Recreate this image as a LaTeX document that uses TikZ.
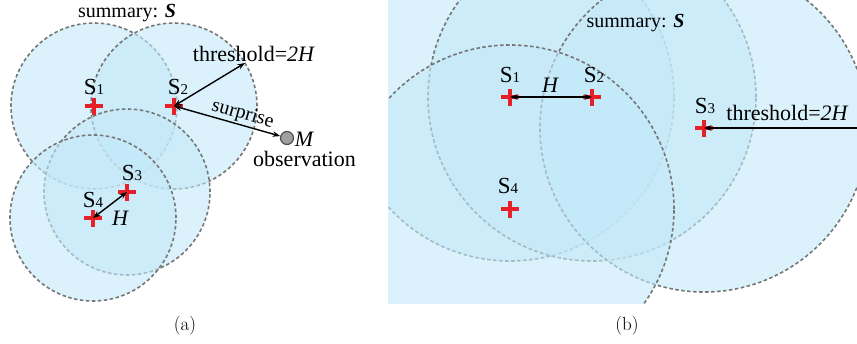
\documentclass[tikz,border=0pt]{standalone}
\usepackage{fontspec}
\newfontfamily\tms{Liberation Serif}
\usetikzlibrary{arrows.meta}
\definecolor{cfill}{RGB}{195,232,248}
\definecolor{cedge}{RGB}{118,118,118}
\definecolor{cred}{RGB}{230,32,38}
\definecolor{mfill}{RGB}{160,160,160}
\definecolor{medge}{RGB}{80,80,80}
\newcommand\snum[1]{\raisebox{-0.5pt}{\fontsize{15}{15}\selectfont #1}}
\tikzset{
  zone/.style={fill=cfill, fill opacity=0.6},
  zoneedge/.style={draw=cedge, dash pattern=on 3.5pt off 2.5pt, line width=1.6pt},
  plus/.pic={\draw[cred, line width=3.4pt] (-9pt,0)--(9pt,0) (0,-8.5pt)--(0,8.5pt);},
  arr/.style={draw=black, line width=1.4pt},
  slab/.style={font=\tms\fontsize{23}{23}\selectfont, inner sep=0pt, anchor=base},
  tlab/.style={font=\tms\fontsize{22}{22}\selectfont, inner sep=0pt, anchor=base},
  smlab/.style={font=\tms\fontsize{20}{20}\selectfont, inner sep=0pt, anchor=base},
  caplab/.style={font=\fontsize{19}{19}\selectfont, inner sep=0pt, anchor=base}
}
\begin{document}
\begin{tikzpicture}[x=1pt,y=-1pt,>={Stealth[length=7.5pt,width=5.5pt]}]
\useasboundingbox (0,0) rectangle (857,343);
% ---------- panel (a) ----------
\coordinate (a1) at (94,106);
\coordinate (a2) at (174,106);
\coordinate (a3) at (127,192);
\coordinate (a4) at (93,218);
\foreach \c in {a1,a2,a3,a4}{
  \fill[zone] (\c) circle[radius=83pt];
  \draw[zoneedge] (\c) circle[radius=83pt];
}
\foreach \c in {a1,a2,a3,a4}{ \pic at (\c) {plus}; }
\node[circle, fill=mfill, draw=medge, line width=1.2pt, minimum size=13pt, inner sep=0pt] (M) at (287,138) {};
\coordinate (ta) at (245,63);
\draw[arr,<->] (a2) -- (ta);
\draw[arr,<->] (a2) -- node[pos=0.62, above=1pt, sloped, font=\tms\fontsize{20}{20}\selectfont, inner sep=0pt] (sur) {surprise} (M);
\draw[arr,<->] (a4) -- (a3);
\node[slab] (la1) at (94,94) {S\snum{1}};
\node[slab] (la2) at (178,94) {S\snum{2}};
\node[slab] (la3) at (132,180) {S\snum{3}};
\node[slab] (la4) at (93,207) {S\snum{4}};
\node[smlab] (suma) at (127,17) {summary: {\bfseries\itshape S}};
\node[tlab] (tha) at (253.5,61) {threshold={\itshape 2H}};
\node[tlab] (ha) at (120,225) {\itshape H};
\node[tlab] (lm) at (304,146) {\itshape M};
\node[tlab] (obs) at (304.5,166) {observation};
\node[caplab] (capa) at (185,330) {(a)};
% ---------- panel (b) ----------
\coordinate (b1) at (510,97);
\coordinate (b2) at (592,97);
\coordinate (b3) at (704,128);
\coordinate (b4) at (510,209);
\coordinate (tb) at (868,128);
\begin{scope}
  \clip (388,0) rectangle (857,303);
  \foreach \c in {b1,b2,b3,b4}{
    \fill[zone] (\c) circle[radius=164pt];
    \draw[zoneedge] (\c) circle[radius=164pt];
  }
  \foreach \c in {b1,b2,b3,b4}{ \pic at (\c) {plus}; }
  \draw[arr,<->] (b1) -- (b2);
  \draw[arr,<-] (b3) -- (tb);
\end{scope}
\node[slab] (lb1) at (510,82) {S\snum{1}};
\node[slab] (lb2) at (594,82) {S\snum{2}};
\node[slab] (lb3) at (705,113) {S\snum{3}};
\node[slab] (lb4) at (508,193) {S\snum{4}};
\node[smlab] (sumb) at (635.5,27) {summary: {\bfseries\itshape S}};
\node[tlab] (thb) at (787,120) {threshold={\itshape 2H}};
\node[tlab] (hb) at (550,92) {\itshape H};
\node[caplab] (capb) at (627,330) {(b)};
\end{tikzpicture}
\end{document}
